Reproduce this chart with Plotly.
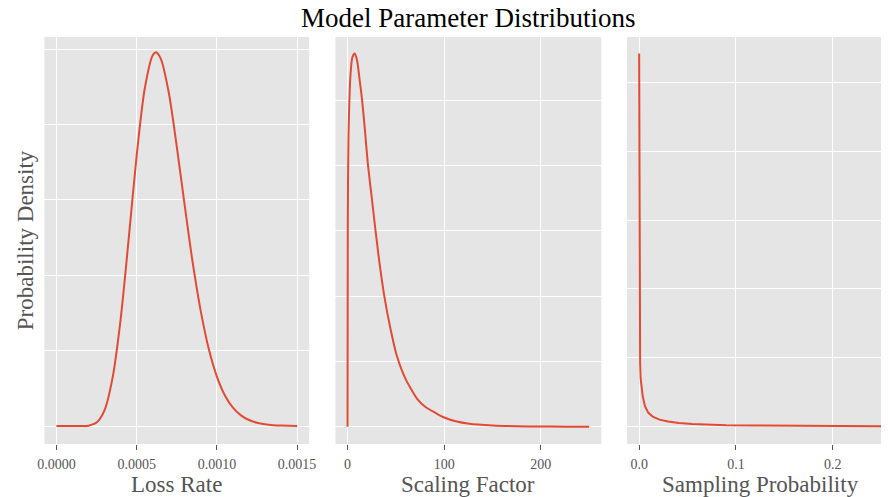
import plotly.graph_objects as go

# ---------------- data ----------------
loss_rate = [0.0, 0.00005, 0.0001, 0.00015, 0.0002, 0.00025, 0.0003, 0.00035,
             0.0004, 0.00045, 0.0005, 0.00055, 0.0006, 0.00062, 0.00065, 0.0007,
             0.00075, 0.0008, 0.00085, 0.0009, 0.00095, 0.001, 0.00105, 0.0011,
             0.00115, 0.0012, 0.00125, 0.0013, 0.00135, 0.0014, 0.00145, 0.0015]
loss_density = [0, 0, 0, 0.1, 2.7, 23, 106, 321, 708, 1238, 1793, 2235, 2459,
                2479, 2437, 2212, 1853, 1458, 1078, 759, 509, 328, 203, 122, 71,
                40, 22, 12, 6, 3, 1.6, 0.8]

scaling_factor = [0, 0.25, 0.5, 1, 2, 3, 5, 7.5, 10, 12.5, 15, 18, 21, 25, 29,
                  33, 38, 44, 51, 60, 72, 81, 91, 100, 112, 126, 150, 175, 200,
                  225, 250]
scaling_density = [0, 0.01428, 0.01856, 0.02228, 0.02513, 0.02685, 0.02827,
                   0.02856, 0.02799, 0.02656, 0.02505, 0.02271, 0.02013,
                   0.01756, 0.01499, 0.01257, 0.01002, 0.00765, 0.00543,
                   0.00366, 0.00214, 0.00149, 0.00106, 0.00071, 0.00042,
                   0.00023, 0.00010, 0.000037, 0.000014, 0.000006, 0.000003]

sampling_prob = [0, 0.0003, 0.0006, 0.001, 0.0015, 0.0025, 0.0037, 0.006,
                 0.0095, 0.014, 0.021, 0.03, 0.041, 0.055, 0.069, 0.09, 0.12,
                 0.15, 0.2, 0.25]
sampling_density = [271, 135.5, 81.3, 46.1, 35.2, 27.1, 22.0, 14.9, 10.0, 7.3,
                    5.1, 3.8, 2.7, 2.0, 1.5, 1.1, 0.81, 0.65, 0.46, 0.35]

loss_ticks = [0, 0.0005, 0.001, 0.0015]
loss_ticktext = ["0.0000", "0.0005", "0.0010", "0.0015"]
scaling_ticks = [0, 100, 200]
scaling_ticktext = ["0", "100", "200"]
sampling_ticks = [0, 0.1, 0.2]
sampling_ticktext = ["0.0", "0.1", "0.2"]

title_text = "Model Parameter Distributions"
x_titles = ["Loss Rate", "Scaling Factor", "Sampling Probability"]
y_title = "Probability Density"

# ---------------- figure ----------------
W, H = 888, 497
RED = "#E24A33"
GRAY = "#555555"
FONT = "Liberation Serif"

fig = go.Figure()
fig.add_trace(go.Scatter(x=loss_rate, y=loss_density, mode="lines",
                         line=dict(color=RED, width=2, shape="spline", smoothing=0.8),
                         xaxis="x", yaxis="y", showlegend=False, hoverinfo="skip"))
fig.add_trace(go.Scatter(x=scaling_factor, y=scaling_density, mode="lines",
                         line=dict(color=RED, width=2, shape="spline", smoothing=0.6),
                         xaxis="x2", yaxis="y2", showlegend=False, hoverinfo="skip"))
fig.add_trace(go.Scatter(x=sampling_prob, y=sampling_density, mode="lines",
                         line=dict(color=RED, width=2),
                         xaxis="x3", yaxis="y3", showlegend=False, hoverinfo="skip"))

ydom = [1 - 444 / H, 1 - 37 / H]


def xax(dom, rng, tv, tt, anchor):
    return dict(domain=[dom[0] / W, dom[1] / W], range=rng, tickvals=tv, ticktext=tt,
                showgrid=True, gridcolor="white", gridwidth=1.2, zeroline=False,
                showline=False, ticks="outside", ticklen=5, tickwidth=1,
                tickcolor=GRAY, ticklabelstandoff=2,
                tickfont=dict(family=FONT, size=14, color=GRAY), anchor=anchor)


def yax(rng, dt, anchor):
    return dict(domain=ydom, range=rng, dtick=dt, tick0=0, showticklabels=False,
                ticks="", showgrid=True, gridcolor="white", gridwidth=1.2,
                zeroline=False, showline=False, anchor=anchor)


fig.update_layout(
    width=W, height=H, autosize=False,
    margin=dict(l=0, r=0, t=0, b=0),
    paper_bgcolor="white", plot_bgcolor="#E5E5E5",
    xaxis=xax((38, 307), [-0.000075, 0.001575], loss_ticks, loss_ticktext, "y"),
    yaxis=yax([-119, 2580], 500, "x"),
    xaxis2=xax((333.7, 603.8), [-12.5, 262.5], scaling_ticks, scaling_ticktext, "y2"),
    yaxis2=yax([-0.00132, 0.02982], 0.005, "x2"),
    xaxis3=xax((630, 888), [-0.0125, 0.24996], sampling_ticks, sampling_ticktext, "y3"),
    yaxis3=yax([-12.6, 283], 50, "x3"),
)

ann = [dict(text=title_text, x=468 / W, y=1 - 18 / H, xref="paper", yref="paper",
            xanchor="center", yanchor="middle", showarrow=False,
            font=dict(family=FONT, size=27, color="black"))]
for cx, t in zip([172.5, 468.8, 765.5], x_titles):
    ann.append(dict(text=t, x=cx / W, y=1 - 484 / H, xref="paper", yref="paper",
                    xanchor="center", yanchor="middle", showarrow=False,
                    font=dict(family=FONT, size=23, color=GRAY)))
ann.append(dict(text=y_title, x=19 / W, y=1 - 240.5 / H, xref="paper", yref="paper",
                xanchor="center", yanchor="middle", textangle=-90, showarrow=False,
                font=dict(family=FONT, size=23, color=GRAY)))
fig.update_layout(annotations=ann)

fig.write_html("out.html", config={"displayModeBar": False},
               post_script="document.body.style.margin='0px';")
